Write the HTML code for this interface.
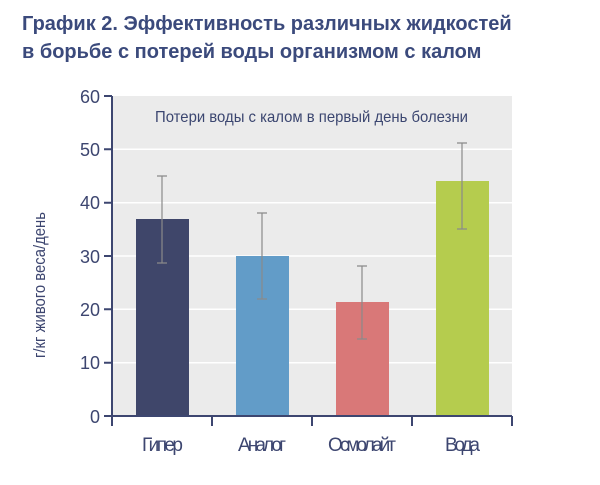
<!DOCTYPE html><html><head><meta charset="utf-8"><style>body{margin:0;background:#fff;width:600px;height:480px;overflow:hidden}</style></head><body>
<svg width="600" height="480" xmlns="http://www.w3.org/2000/svg" font-family="Liberation Sans, DejaVu Sans, sans-serif">
<text x="22" y="30" font-size="20" font-weight="bold" fill="#3b4a7c">График 2. Эффективность различных жидкостей</text>
<text x="22" y="58" font-size="20" font-weight="bold" fill="#3b4a7c">в борьбе с потерей воды организмом с калом</text>
<rect x="112" y="96" width="400" height="320" fill="#ebebeb"/>
<g stroke="#fff" stroke-width="1.5">
<line x1="112" x2="512" y1="149.3" y2="149.3"/><line x1="112" x2="512" y1="202.7" y2="202.7"/><line x1="112" x2="512" y1="256" y2="256"/><line x1="112" x2="512" y1="309.3" y2="309.3"/><line x1="112" x2="512" y1="362.7" y2="362.7"/>
</g>
<text x="155" y="122" font-size="16" fill="#3b4670" textLength="313" lengthAdjust="spacingAndGlyphs">Потери воды с калом в первый день болезни</text>
<rect x="136" y="219" width="53" height="197" fill="#3f466a"/>
<rect x="236" y="256" width="53" height="160" fill="#629cc8"/>
<rect x="336" y="302" width="53" height="114" fill="#d97878"/>
<rect x="436" y="181" width="53" height="235" fill="#b5cc4e"/>
<g stroke="#8a8a8a" stroke-width="1.2" fill="none">
<path d="M162 176V263M157 176h10M157 263h10"/>
<path d="M262 213V299M257 213h10M257 299h10"/>
<path d="M362 266V339M357 266h10M357 339h10"/>
<path d="M462 143V229M457 143h10M457 229h10"/>
</g>
<g stroke="#3d4670" stroke-width="2" fill="none">
<path d="M112 96V416H512"/>
<path d="M104 96h8M104 149.3h8M104 202.7h8M104 256h8M104 309.3h8M104 362.7h8M104 416h8"/>
<path d="M112 416v10M212 416v10M312 416v10M412 416v10M512 416v10"/>
</g>
<g font-size="18" fill="#3d4670" text-anchor="end">
<text x="100" y="103">60</text><text x="100" y="156">50</text><text x="100" y="209">40</text><text x="100" y="263">30</text><text x="100" y="316">20</text><text x="100" y="369">10</text><text x="100" y="423">0</text>
</g>
<text x="0" y="0" transform="translate(45,358) rotate(-90)" font-size="17" fill="#3d4670" textLength="146" lengthAdjust="spacingAndGlyphs">г/кг живого веса/день</text>
<g font-size="19" fill="#3d4670" lengthAdjust="spacingAndGlyphs">
<text x="142" y="451" textLength="41">Гипер</text><text x="238" y="451" textLength="48">Аналог</text><text x="328" y="451" textLength="68">Осмолайт</text><text x="445" y="451" textLength="35">Вода</text>
</g>
</svg></body></html>
